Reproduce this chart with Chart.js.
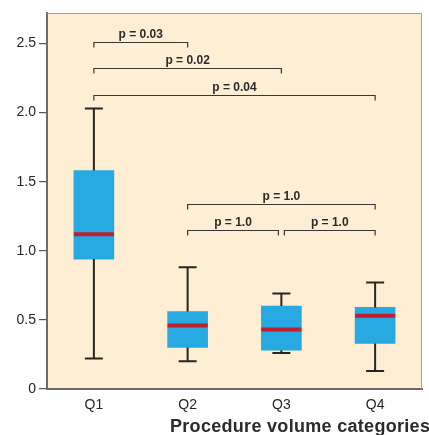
<!DOCTYPE html>
<html>
<head>
<meta charset="utf-8">
<script src="https://cdn.jsdelivr.net/npm/chart.js@4"></script>
<style>
  html, body { margin: 0; padding: 0; background: #fff; overflow: hidden; }
  #wrap { width: 429px; height: 435px; }
</style>
</head>
<body>
<div id="wrap"><canvas id="boxChart"></canvas></div>
<script>
// --- data ---
const categories = ['Q1', 'Q2', 'Q3', 'Q4'];
const whiskerLow = [0.22, 0.20, 0.26, 0.13];
const boxLow = [0.94, 0.30, 0.28, 0.33];
const medians = [1.12, 0.46, 0.43, 0.53];
const boxHigh = [1.58, 0.56, 0.60, 0.59];
const whiskerHigh = [2.03, 0.88, 0.69, 0.77];

const yTicks = [0, 0.5, 1.0, 1.5, 2.0, 2.5];
const yTickLabels = ['0', '0.5', '1.0', '1.5', '2.0', '2.5'];

// significance brackets (category index from/to, height in y units)
const bracketFrom = [0, 0, 0, 1, 1, 2];
const bracketTo = [1, 2, 3, 3, 2, 3];
const bracketLevel = [2.51, 2.32, 2.13, 1.34, 1.15, 1.15];
const bracketLabels = ['p = 0.03', 'p = 0.02', 'p = 0.04', 'p = 1.0', 'p = 1.0', 'p = 1.0'];

const xTitle = 'Procedure volume categories';

const FONT = '"Liberation Sans", Arial, sans-serif';
const INK = '#2a2522';

// fond + cadre du plot
const framePlugin = {
    id: 'frame',
    beforeDraw(chart) {
        const { ctx, chartArea: a } = chart;
        ctx.save();
        ctx.fillStyle = '#FEEFD4';
        ctx.fillRect(a.left, a.top, a.right - a.left, a.bottom - a.top);
        ctx.restore();
    },
    afterDraw(chart) {
        const { ctx, chartArea: a } = chart;
        ctx.save();
        ctx.strokeStyle = '#a8a29a';
        ctx.lineWidth = 1;
        ctx.beginPath();
        ctx.moveTo(a.left, a.top + 0.5);
        ctx.lineTo(a.right - 0.5, a.top + 0.5);
        ctx.lineTo(a.right - 0.5, a.bottom);
        ctx.stroke();
        // x title, left aligned and running off the right edge like the source
        ctx.fillStyle = '#2b2b2b';
        ctx.font = 'bold 18px ' + FONT;
        ctx.letterSpacing = '0.3px';
        ctx.textAlign = 'left';
        ctx.textBaseline = 'alphabetic';
        ctx.fillText(xTitle, 170, 432);
        ctx.restore();
    }
};

// whiskers, medians, brackets
const boxPlugin = {
    id: 'boxExtras',
    afterDatasetsDraw(chart) {
        const { ctx } = chart;
        const x = chart.scales.x;
        const y = chart.scales.y;
        const meta = chart.getDatasetMeta(0);
        ctx.save();
        categories.forEach((c, i) => {
            const cx = x.getPixelForValue(i);
            const bar = meta.data[i];
            const half = bar.width / 2;
            ctx.strokeStyle = INK;
            ctx.lineWidth = 2;
            ctx.beginPath();
            ctx.moveTo(cx, y.getPixelForValue(boxHigh[i]));
            ctx.lineTo(cx, y.getPixelForValue(whiskerHigh[i]));
            ctx.moveTo(cx, y.getPixelForValue(boxLow[i]));
            ctx.lineTo(cx, y.getPixelForValue(whiskerLow[i]));
            ctx.moveTo(cx - 9, y.getPixelForValue(whiskerHigh[i]));
            ctx.lineTo(cx + 9, y.getPixelForValue(whiskerHigh[i]));
            ctx.moveTo(cx - 9, y.getPixelForValue(whiskerLow[i]));
            ctx.lineTo(cx + 9, y.getPixelForValue(whiskerLow[i]));
            ctx.stroke();
            ctx.strokeStyle = '#BE1E2D';
            ctx.lineWidth = 4;
            ctx.beginPath();
            ctx.moveTo(cx - half, y.getPixelForValue(medians[i]));
            ctx.lineTo(cx + half, y.getPixelForValue(medians[i]));
            ctx.stroke();
        });

        ctx.strokeStyle = '#3a3633';
        ctx.lineWidth = 1.2;
        ctx.fillStyle = '#2b2b2b';
        ctx.font = 'bold 12px ' + FONT;
        ctx.textAlign = 'center';
        ctx.textBaseline = 'alphabetic';
        bracketFrom.forEach((f, i) => {
            const t = bracketTo[i];
            let x0 = x.getPixelForValue(f);
            let x1 = x.getPixelForValue(t);
            // neighbour brackets on the same level leave a small gap
            bracketFrom.forEach((f2, j) => {
                if (j === i || bracketLevel[j] !== bracketLevel[i]) return;
                if (bracketTo[j] === f) x0 += 3;
                if (f2 === t) x1 -= 3;
            });
            const py = Math.round(y.getPixelForValue(bracketLevel[i])) + 0.5;
            ctx.beginPath();
            ctx.moveTo(x0, py + 5);
            ctx.lineTo(x0, py);
            ctx.lineTo(x1, py);
            ctx.lineTo(x1, py + 5);
            ctx.stroke();
            ctx.fillText(bracketLabels[i], (x0 + x1) / 2, py - 5);
        });
        ctx.restore();
    }
};

const ctx = document.getElementById('boxChart').getContext('2d');

const boxChart = new Chart(ctx, {
    type: 'bar',
    data: {
        labels: categories,
        datasets: [{
            data: categories.map((c, i) => [boxLow[i], boxHigh[i]]),
            backgroundColor: '#27A9E1',
            borderWidth: 0,
            borderSkipped: false,
            barThickness: 40,
        }]
    },
    options: {
        responsive: true,
        maintainAspectRatio: false,
        animation: false,
        layout: {
            padding: { top: 13, right: 7, left: 0, bottom: 0 }
        },
        scales: {
            x: {
                offset: true,
                grid: { display: false, drawTicks: false },
                border: { display: true, color: '#6b6b6b', width: 2 },
                ticks: {
                    color: INK,
                    padding: 8,
                    font: { family: FONT, size: 14 }
                },
                afterFit(scale) { scale.height = 46; }
            },
            y: {
                min: 0,
                max: 2.72,
                afterBuildTicks(scale) {
                    scale.ticks = yTicks.map(v => ({ value: v }));
                },
                grid: {
                    drawOnChartArea: false,
                    drawTicks: true,
                    tickLength: 8,
                    color: '#555',
                    lineWidth: 1.2
                },
                border: { display: true, color: '#6b6b6b', width: 2 },
                ticks: {
                    color: INK,
                    padding: 3,
                    font: { family: FONT, size: 14 },
                    callback: (v, i) => yTickLabels[i]
                },
                afterFit(scale) { scale.width = 47; }
            }
        },
        plugins: {
            legend: { display: false },
            tooltip: { enabled: false }
        }
    },
    plugins: [framePlugin, boxPlugin]
});
</script>
</body>
</html>
